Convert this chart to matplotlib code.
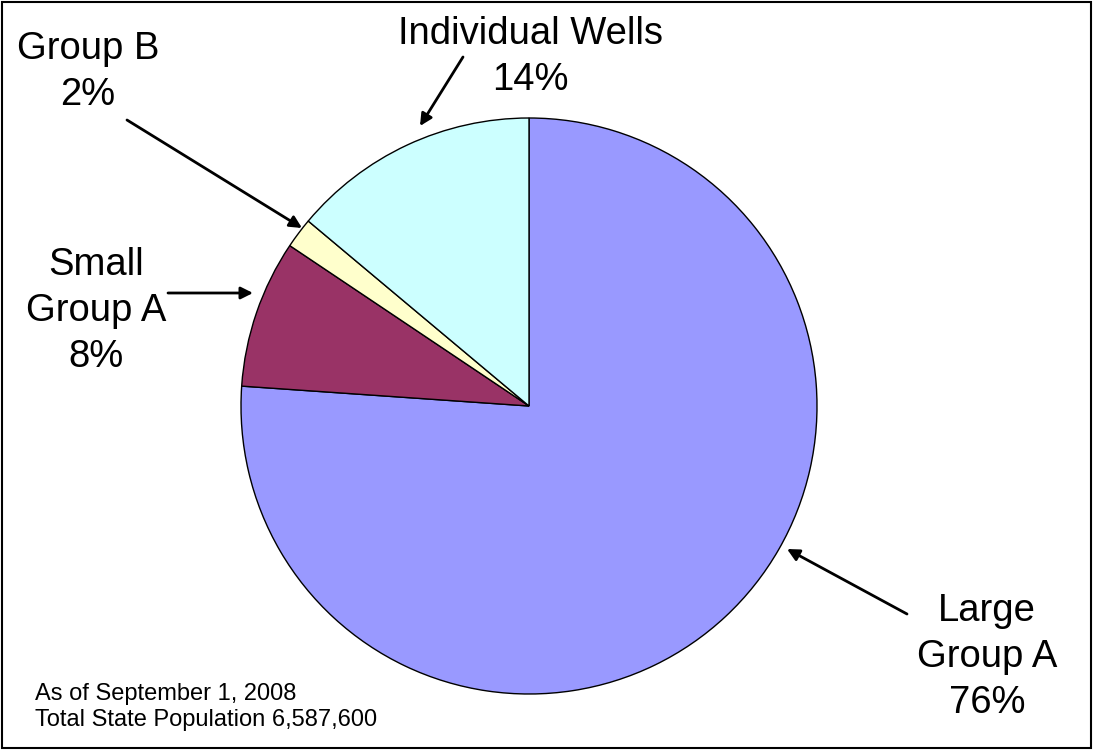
import matplotlib.pyplot as plt
from matplotlib.patches import Rectangle

plt.rcParams['font.family'] = ['Liberation Sans', 'DejaVu Sans']

# --- Data ---
categories = ["Large Group A", "Small Group A", "Group B", "Individual Wells"]
shares = [76.1, 8.3, 1.7, 13.9]
pct_labels = ["76%", "8%", "2%", "14%"]
colors = ["#9999FF", "#993366", "#FFFFCC", "#CCFFFF"]

W, H = 1094, 750

fig = plt.figure(figsize=(W / 100, H / 100), dpi=100)
ax = fig.add_axes([0, 0, 1, 1])

ax.pie(shares, colors=colors, startangle=90, counterclock=False,
       center=(529, H - 406), radius=288, frame=True,
       wedgeprops=dict(edgecolor='black', linewidth=1))
ax.set_xlim(0, W)
ax.set_ylim(0, H)
ax.set_aspect('equal')
ax.axis('off')

arrow = dict(arrowstyle='-|>', color='black', lw=2, mutation_scale=18,
             shrinkA=0, shrinkB=0)

# labels: text position and arrow ends in pixel coords (y from top)
label_text = {
    "Large Group A": "Large\nGroup A\n" + pct_labels[0],
    "Small Group A": "Small\nGroup A\n" + pct_labels[1],
    "Group B": "Group B\n" + pct_labels[2],
    "Individual Wells": "Individual Wells\n" + pct_labels[3],
}
label_pos = {
    "Large Group A": (987, 657),
    "Small Group A": (96, 311),
    "Group B": (88, 72),
    "Individual Wells": (530, 57),
}
arrow_from = {
    "Large Group A": (907, 614),
    "Small Group A": (168, 293),
    "Group B": (127, 120),
    "Individual Wells": (463, 57),
}
arrow_to = {
    "Large Group A": (787, 549),
    "Small Group A": (253, 293),
    "Group B": (302, 228),
    "Individual Wells": (420, 126),
}

for cat in categories:
    x, y = label_pos[cat]
    ax.text(x, H - y, label_text[cat], ha='center', va='center',
            fontsize=27.5, linespacing=1.36)
    x0, y0 = arrow_from[cat]
    x1, y1 = arrow_to[cat]
    ax.annotate("", xy=(x1, H - y1), xytext=(x0, H - y0), arrowprops=arrow)

ax.text(35, H - 707, "As of September 1, 2008\nTotal State Population 6,587,600",
        ha='left', va='center', fontsize=17, linespacing=1.2)

fig.patches.append(Rectangle((0.002, 0.003), 0.995, 0.994, transform=fig.transFigure,
                             fill=False, edgecolor='black', linewidth=1.5))

fig.savefig("out.png", dpi=100)
